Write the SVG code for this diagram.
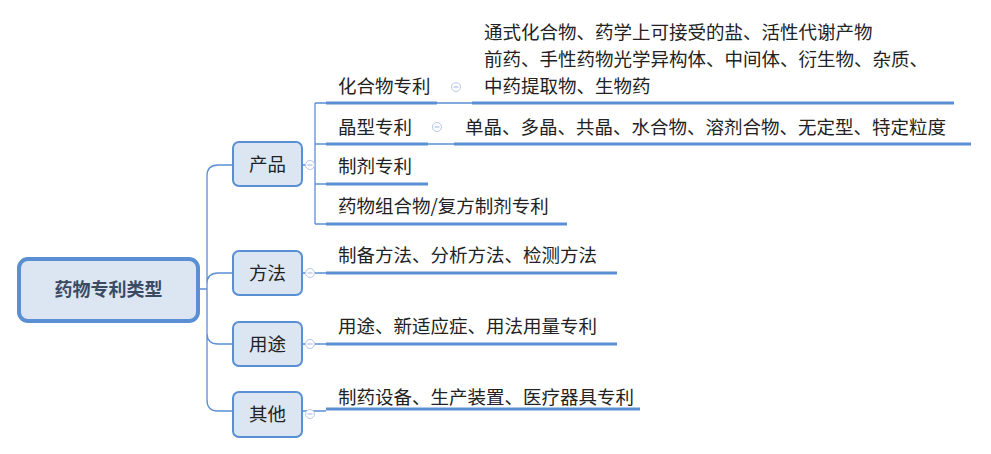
<svg xmlns="http://www.w3.org/2000/svg" width="991" height="454" viewBox="0 0 991 454">
<style>
text{font-family:"Noto Sans CJK SC","Liberation Sans",sans-serif;font-size:18.5px;fill:#222}
.box{fill:#dce6f2;stroke:#5b8fd3;stroke-width:2}
.ln{stroke:#5b8fd3;stroke-width:1.3;fill:none}
.ul{stroke:#5b8fd3;stroke-width:3;fill:none}
.c{fill:#fff;stroke:#b8c8e8;stroke-width:1}
.m{stroke:#9fb4e0;stroke-width:1}
</style>
<rect width="991" height="454" fill="#fff"/>
<g id="connectors">
<path class="ln" d="M198 289H207M207 176Q207 165 218 165H233M207 284Q207 273 218 273H233M207 333Q207 344 218 344H233M207 400Q207 411 218 411H233M207 176V400"/>
<path class="ln" d="M302 165H315M315 103V224M315 103H326M315 144H326M315 184H326M315 224H326M302 273H326M302 344H326M302 411H326M437 103H472M428 144H454"/>
<path class="ul" d="M326 103H437M472 103H954M326 144H428M454 144H971M326 184H428M326 224H567M326 273H617M326 344H617M326 409H640"/>
</g>
<g id="root"><rect x="19" y="259" width="179" height="62" rx="9" fill="#dce6f2" stroke="#5b8fd3" stroke-width="4"/><text x="108.5" y="296" text-anchor="middle" font-weight="bold" style="font-size:18px;fill:#3a4a63">药物专利类型</text></g>
<g id="n-product"><rect class="box" x="233" y="142" width="69" height="44" rx="6"/><text x="267.5" y="171" text-anchor="middle">产品</text><circle class="c" cx="310" cy="165" r="4.5"/><path class="m" d="M307.5 165h5"/></g>
<g id="n-method"><rect class="box" x="233" y="251" width="69" height="44" rx="6"/><text x="267.5" y="280" text-anchor="middle">方法</text><circle class="c" cx="310" cy="273" r="4.5"/><path class="m" d="M307.5 273h5"/></g>
<g id="n-use"><rect class="box" x="233" y="322" width="69" height="44" rx="6"/><text x="267.5" y="351" text-anchor="middle">用途</text><circle class="c" cx="310" cy="344" r="4.5"/><path class="m" d="M307.5 344h5"/></g>
<g id="n-other"><rect class="box" x="233" y="392" width="69" height="45" rx="6"/><text x="267.5" y="421" text-anchor="middle">其他</text><circle class="c" cx="310" cy="414" r="4.5"/><path class="m" d="M307.5 414h5"/></g>
<g id="n-compound"><text x="338" y="93">化合物专利</text><circle class="c" cx="456" cy="87" r="4.5"/><path class="m" d="M453.5 87h5"/></g>
<g id="n-compound-leaf"><text x="484" y="39">通式化合物、药学上可接受的盐、活性代谢产物</text><text x="484" y="66">前药、手性药物光学异构体、中间体、衍生物、杂质、</text><text x="484" y="93">中药提取物、生物药</text></g>
<g id="n-crystal"><text x="338" y="134">晶型专利</text><circle class="c" cx="437" cy="127" r="4.5"/><path class="m" d="M434.5 127h5"/></g>
<g id="n-crystal-leaf"><text x="465" y="134">单晶、多晶、共晶、水合物、溶剂合物、无定型、特定粒度</text></g>
<g id="n-prep"><text x="338" y="173">制剂专利</text></g>
<g id="n-combo"><text x="338" y="213">药物组合物/复方制剂专利</text></g>
<g id="n-method-leaf"><text x="338" y="262">制备方法、分析方法、检测方法</text></g>
<g id="n-use-leaf"><text x="338" y="333">用途、新适应症、用法用量专利</text></g>
<g id="n-other-leaf"><text x="338" y="404">制药设备、生产装置、医疗器具专利</text></g>
</svg>
